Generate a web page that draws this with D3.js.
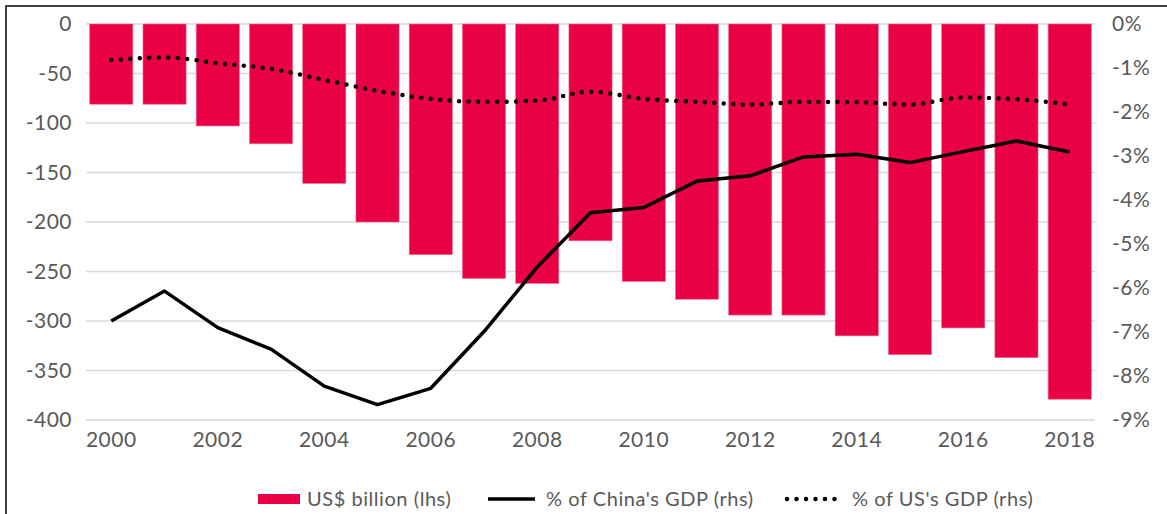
<!DOCTYPE html>
<html>
<head>
<meta charset="utf-8">
<script src="https://cdn.jsdelivr.net/npm/d3@7"></script>
<style>
  body { margin: 0; background: #fff; }
  svg { display: block; font-family: Lato, "Open Sans", sans-serif; }
</style>
</head>
<body>
<svg id="chart" width="1167" height="514"></svg>
<script>
// data
const years = d3.range(2000, 2019).map(String);
const tradeBalance = [-81, -81, -103, -121, -161, -200, -233, -257, -262, -219, -260, -278, -294, -294, -315, -334, -307, -337, -379];
const pctChinaGdp = [-6.75, -6.07, -6.9, -7.39, -8.23, -8.65, -8.28, -6.99, -5.52, -4.29, -4.17, -3.57, -3.45, -3.02, -2.96, -3.15, -2.9, -2.66, -2.91];
const pctUsGdp = [-0.82, -0.76, -0.89, -1.02, -1.27, -1.52, -1.7, -1.77, -1.74, -1.54, -1.7, -1.77, -1.83, -1.77, -1.78, -1.83, -1.67, -1.71, -1.83];
const leftTicks = d3.range(0, -401, -50);
const rightTicks = d3.range(0, -10, -1);
const xTickYears = years.filter((d, i) => i % 2 === 0);
const legendItems = ["US$ billion (lhs)", "% of China's GDP (rhs)", "% of US's GDP (rhs)"];

const svg = d3.select("#chart");
const plotLeft = 86, plotRight = 1095, plotTop = 24, plotBottom = 420;
const red = "#EA0045";
const grey = "#595959";

// frame
svg.append("rect")
  .attr("x", 6).attr("y", 6)
  .attr("width", 1200).attr("height", 600)
  .attr("fill", "none").attr("stroke", "#000").attr("stroke-width", 1.5);

const x = d3.scaleBand().domain(years).range([plotLeft, plotRight])
  .paddingInner(0.19).paddingOuter(0.07);
const yL = d3.scaleLinear().domain([-400, 0]).range([plotBottom, plotTop]);
const yR = d3.scaleLinear().domain([-9, 0]).range([plotBottom, plotTop]);

// gridlines
svg.append("g").selectAll("line").data(leftTicks).enter().append("line")
  .attr("x1", plotLeft).attr("x2", plotRight)
  .attr("y1", d => yL(d)).attr("y2", d => yL(d))
  .attr("stroke", "#d9d9d9").attr("stroke-width", 1.5);

// bars
svg.append("g").selectAll("rect").data(tradeBalance).enter().append("rect")
  .attr("x", (d, i) => x(years[i]))
  .attr("y", yL(0))
  .attr("width", x.bandwidth())
  .attr("height", d => yL(d) - yL(0))
  .attr("fill", red)
  .attr("stroke", "#f06a90").attr("stroke-width", 0.6);

function styleTicks(g) {
  g.select(".domain").remove();
  g.selectAll("text").attr("font-size", 21).attr("fill", grey)
    .attr("letter-spacing", 0.5).attr("font-family", "Lato, sans-serif");
}

// left axis
svg.append("g").attr("transform", `translate(${plotLeft - 14},0)`)
  .call(d3.axisLeft(yL).tickValues(leftTicks).tickSize(0).tickPadding(0).tickFormat(d => String(d)))
  .call(styleTicks);

// right axis
svg.append("g").attr("transform", `translate(${plotRight + 17},0)`)
  .call(d3.axisRight(yR).tickValues(rightTicks).tickSize(0).tickPadding(0).tickFormat(d => d + "%"))
  .call(styleTicks);

// bottom axis
svg.append("g").attr("transform", `translate(0,${plotBottom + 8})`)
  .call(d3.axisBottom(x).tickValues(xTickYears).tickSize(0).tickPadding(0))
  .call(styleTicks)
  .selectAll("text").attr("dy", "0.9em");

const cx = (d, i) => x(years[i]) + x.bandwidth() / 2;

// China line
svg.append("path").datum(pctChinaGdp)
  .attr("d", d3.line().x(cx).y(d => yR(d)))
  .attr("fill", "none").attr("stroke", "#000").attr("stroke-width", 3.5)
  .attr("stroke-linejoin", "round");

// US dotted line
svg.append("path").datum(pctUsGdp)
  .attr("d", d3.line().x(cx).y(d => yR(d)).curve(d3.curveMonotoneX))
  .attr("fill", "none").attr("stroke", "#000").attr("stroke-width", 4.5)
  .attr("stroke-linecap", "round").attr("stroke-dasharray", "0 9.5");

// legend
const lg = svg.append("g").attr("font-size", 20).attr("fill", grey).attr("letter-spacing", 0.55);
const ly = 499;
lg.append("rect").attr("x", 258).attr("y", ly - 5).attr("width", 42).attr("height", 10).attr("fill", red);
lg.append("text").attr("x", 307).attr("y", ly).attr("dy", "0.35em").text(legendItems[0]);
lg.append("line").attr("x1", 488).attr("x2", 535).attr("y1", ly).attr("y2", ly)
  .attr("stroke", "#000").attr("stroke-width", 3.5);
lg.append("text").attr("x", 546).attr("y", ly).attr("dy", "0.35em").text(legendItems[1]);
lg.append("line").attr("x1", 787).attr("x2", 843).attr("y1", ly).attr("y2", ly)
  .attr("stroke", "#000").attr("stroke-width", 4.5).attr("stroke-linecap", "round")
  .attr("stroke-dasharray", "0 9.5");
lg.append("text").attr("x", 852).attr("y", ly).attr("dy", "0.35em").text(legendItems[2]);
</script>
</body>
</html>
